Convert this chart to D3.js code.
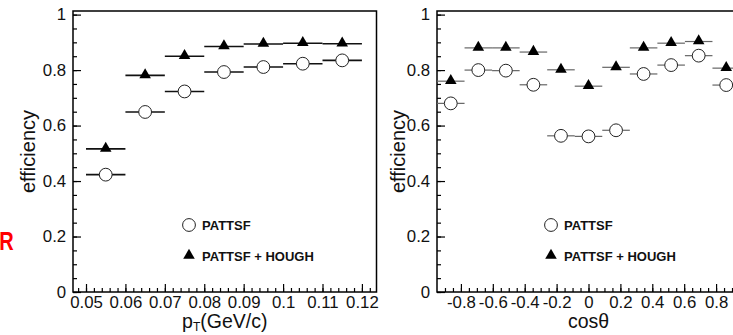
<!DOCTYPE html>
<html>
<head>
<meta charset="utf-8">
<script src="https://cdn.jsdelivr.net/npm/d3@7"></script>
<style>
  html, body { margin: 0; padding: 0; background: #fff; }
  svg { display: block; font-family: "Liberation Sans", Arial, Helvetica, sans-serif; }
</style>
</head>
<body>
<svg id="chart" width="733" height="335"></svg>
<script>
// ---- data ----
const yTicks = [0, 0.2, 0.4, 0.6, 0.8, 1];
const ptTicks = [0.05, 0.06, 0.07, 0.08, 0.09, 0.1, 0.11, 0.12];
const cosTicks = [-0.8, -0.6, -0.4, -0.2, 0, 0.2, 0.4, 0.6, 0.8];

const ptCenters = [0.055, 0.065, 0.075, 0.085, 0.095, 0.105, 0.115];
const ptHalfWidth = 0.005;
const pattsfPt = [0.423, 0.649, 0.723, 0.793, 0.811, 0.823, 0.835];
const houghPt  = [0.516, 0.781, 0.850, 0.885, 0.894, 0.897, 0.895];

const cosCenters = [-0.8636, -0.6909, -0.5182, -0.3455, -0.1727, 0, 0.1727, 0.3455, 0.5182, 0.6909, 0.8636];
const cosHalfWidth = 0.0864;
const pattsfCos = [0.680, 0.800, 0.798, 0.747, 0.563, 0.561, 0.583, 0.786, 0.818, 0.852, 0.746];
const houghCos  = [0.760, 0.880, 0.880, 0.865, 0.801, 0.742, 0.810, 0.880, 0.897, 0.903, 0.807];

const legendLabels = ["PATTSF", "PATTSF + HOUGH"];

// ---- drawing ----
const svg = d3.select("#chart");
const fmt = v => String(+v.toFixed(3));
const triangle = d3.symbol().type(d3.symbolTriangle).size(58);
const labelScale = 1.05;

function panel(opts) {
  const g = svg.append("g");
  const x = d3.scaleLinear().domain(opts.xDomain).range(opts.xRange);
  const y = d3.scaleLinear().domain([0, 1.013]).range([292, 11]);
  const [x0, x1] = opts.xRange;

  // frame
  g.append("rect").attr("x", x0).attr("y", 11).attr("width", x1 - x0).attr("height", 281)
    .attr("fill", "none").attr("stroke", "#000").attr("stroke-width", 1.5);

  // minor ticks
  const minorY = d3.range(0, 1.0001, 0.05);
  g.append("g").attr("transform", `translate(${x0},0)`)
    .call(d3.axisLeft(y).tickValues(minorY).tickSizeInner(-4).tickSizeOuter(0).tickFormat(""))
    .call(a => a.select(".domain").remove())
    .selectAll("line").attr("stroke-width", 1.2);
  g.append("g").attr("transform", `translate(0,292)`)
    .call(d3.axisBottom(x).tickValues(opts.minorX).tickSizeInner(-4).tickSizeOuter(0).tickFormat(""))
    .call(a => a.select(".domain").remove())
    .selectAll("line").attr("stroke-width", 1.2);

  // major ticks + labels
  const ya = g.append("g").attr("transform", `translate(${x0},0)`)
    .call(d3.axisLeft(y).tickValues(yTicks).tickSizeInner(-8).tickSizeOuter(0).tickPadding(6.5).tickFormat(fmt));
  ya.select(".domain").remove();
  ya.attr("font-size", null).attr("font-family", null);
  ya.selectAll("line").attr("stroke-width", 1.2);
  ya.selectAll("text").style("font-size", "16px").attr("fill", "#111")
    .attr("transform", `scale(${labelScale},1)`);

  const xa = g.append("g").attr("transform", `translate(0,292)`)
    .call(d3.axisBottom(x).tickValues(opts.majorX).tickSizeInner(-8).tickSizeOuter(0).tickPadding(5).tickFormat(fmt));
  xa.select(".domain").remove();
  xa.attr("font-size", null).attr("font-family", null);
  xa.selectAll("line").attr("stroke-width", 1.2);
  xa.selectAll("text").style("font-size", "16px").attr("fill", "#111")
    .attr("transform", `scale(${labelScale},1)`);

  // axis titles
  g.append("text").attr("transform", `translate(${opts.yTitleX},151.5) rotate(-90)`)
    .attr("text-anchor", "middle").style("font-size", "20px").attr("fill", "#111").text("efficiency");
  opts.xTitle(g.append("text").attr("x", (x0 + opts.xTitleEnd) / 2).attr("y", 328)
    .attr("text-anchor", "middle").style("font-size", "19.5px").attr("fill", "#111"));

  // error bars
  const bars = g.append("g").attr("stroke", opts.barColor).attr("stroke-width", opts.barWidth);
  [opts.s1, opts.s2].forEach(s => {
    bars.selectAll(null).data(opts.centers.map((c, i) => [c, s[i]])).join("line")
      .attr("x1", d => x(d[0] - opts.half)).attr("x2", d => x(d[0] + opts.half))
      .attr("y1", d => y(d[1])).attr("y2", d => y(d[1]));
  });

  // markers
  g.append("g").selectAll("circle").data(opts.centers.map((c, i) => [c, opts.s1[i]])).join("circle")
    .attr("cx", d => x(d[0])).attr("cy", d => y(d[1])).attr("r", 6.4)
    .attr("fill", "#fff").attr("stroke", "#222").attr("stroke-width", 1);
  g.append("g").selectAll("path").data(opts.centers.map((c, i) => [c, opts.s2[i]])).join("path")
    .attr("d", triangle).attr("transform", d => `translate(${x(d[0])},${y(d[1]) - 0.5})`)
    .attr("fill", "#000");

  // legend
  const lg = g.append("g").style("font-size", "13px").attr("font-weight", "bold").attr("fill", "#111");
  lg.append("circle").attr("cx", opts.legX).attr("cy", 225).attr("r", 6.4)
    .attr("fill", "#fff").attr("stroke", "#222").attr("stroke-width", 1);
  lg.append("text").attr("x", opts.legX + 13).attr("y", 229.5).text(legendLabels[0]);
  lg.append("path").attr("d", triangle).attr("transform", `translate(${opts.legX},255.5)`).attr("fill", "#000");
  lg.append("text").attr("x", opts.legX + 13).attr("y", 260.5).text(legendLabels[1]);
}

panel({
  xDomain: [0.0467, 0.1237], xRange: [73, 376.5],
  majorX: ptTicks, minorX: d3.range(0.048, 0.1235, 0.002),
  centers: ptCenters, half: ptHalfWidth, s1: pattsfPt, s2: houghPt,
  barColor: "#111", barWidth: 1.6, legX: 189, yTitleX: 35, xTitleEnd: 376.5,
  xTitle: t => { t.append("tspan").text("p");
                 t.append("tspan").style("font-size", "12px").attr("dy", 3).text("T");
                 t.append("tspan").attr("dy", -3).text("(GeV/c)"); }
});

panel({
  xDomain: [-0.95, 0.95], xRange: [437, 740],
  majorX: cosTicks, minorX: d3.range(-0.9, 0.951, 0.05),
  centers: cosCenters, half: cosHalfWidth, s1: pattsfCos, s2: houghCos,
  barColor: "#666", barWidth: 1.2, legX: 551, yTitleX: 405, xTitleEnd: 740,
  xTitle: t => t.text("cos\u03b8")
});

// red label fragment at the left edge
svg.append("text").attr("transform", "translate(0,250) scale(0.8,1)")
  .attr("x", -1).attr("y", 0).attr("text-anchor", "start")
  .style("font-size", "25px").attr("font-weight", "bold").attr("fill", "#ff0000").text("R");
</script>
</body>
</html>
